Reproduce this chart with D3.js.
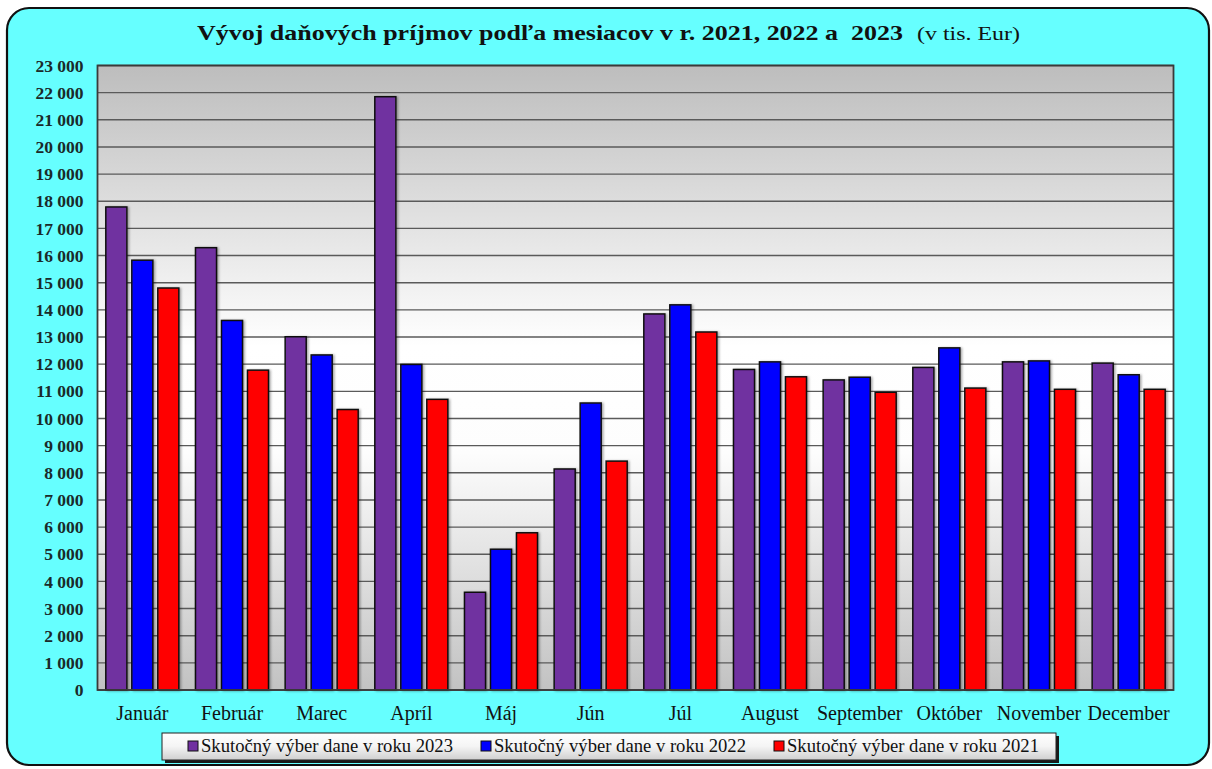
<!DOCTYPE html>
<html>
<head>
<meta charset="utf-8">
<script src="https://cdn.jsdelivr.net/npm/d3@7/dist/d3.min.js"></script>
<style>
  html, body { margin: 0; padding: 0; background: #ffffff; }
  svg { display: block; }
  text { font-family: "Liberation Serif", "Times New Roman", serif; }
</style>
</head>
<body>
<svg id="chart" width="1212" height="769"></svg>
<script>
// ---- Data ----
const months = ["Január", "Február", "Marec", "Apríl", "Máj", "Jún", "Júl", "August", "September", "Október", "November", "December"];
const seriesNames = ["Skutočný výber dane v roku 2023", "Skutočný výber dane v roku 2022", "Skutočný výber dane v roku 2021"];
const values2023 = [17790, 16290, 13010, 21850, 3600, 8140, 13850, 11805, 11420, 11880, 12085, 12040];
const values2022 = [15830, 13610, 12340, 11990, 5185, 10570, 14185, 12085, 11520, 12600, 12120, 11610];
const values2021 = [14805, 11780, 10330, 10705, 5790, 8430, 13185, 11535, 10965, 11120, 11075, 11075];
const seriesColors = ["#7030A0", "#0000FF", "#FF0000"];
const yTicks = d3.range(0, 23001, 1000);
const titleMain = "Vývoj daňových príjmov podľa mesiacov v r. 2021, 2022 a  2023";
const titleUnit = "(v tis. Eur)";

const seriesValues = [values2023, values2022, values2021];

// ---- Layout ----
const svg = d3.select("#chart");
const plot = { left: 97.5, right: 1173.5, top: 65.5, bottom: 690 };
const serif = "'Liberation Serif', 'Times New Roman', serif";

const defs = svg.append("defs");
const bgGrad = defs.append("linearGradient").attr("id", "plotBg")
  .attr("x1", 0).attr("y1", 0).attr("x2", 0).attr("y2", 1);
[[0, "#bdbdbd"], [0.45, "#ffffff"], [0.62, "#fdfdfd"], [1, "#c2c2c2"]].forEach(([o, c]) =>
  bgGrad.append("stop").attr("offset", o).attr("stop-color", c));

const legGrad = defs.append("linearGradient").attr("id", "legBg")
  .attr("x1", 0).attr("y1", 0).attr("x2", 0).attr("y2", 1);
[[0, "#ffffff"], [0.5, "#f4f4f4"], [1, "#cfcfcf"]].forEach(([o, c]) =>
  legGrad.append("stop").attr("offset", o).attr("stop-color", c));

const shadow = defs.append("filter").attr("id", "barShadow")
  .attr("x", "-20%").attr("y", "-5%").attr("width", "150%").attr("height", "115%");
shadow.append("feDropShadow").attr("dx", 1.5).attr("dy", 0.5).attr("stdDeviation", 0.8)
  .attr("flood-color", "#000").attr("flood-opacity", 0.35);

// Outer frame
svg.append("rect")
  .attr("x", 7).attr("y", 8).attr("width", 1202).attr("height", 757)
  .attr("rx", 22).attr("ry", 22)
  .attr("fill", "#66FFFF").attr("stroke", "#111").attr("stroke-width", 2.2);

// Title
svg.append("text")
  .attr("x", 197).attr("y", 40)
  .style("font-family", serif)
  .attr("font-weight", "bold").attr("font-size", 22).attr("fill", "#111")
  .attr("textLength", 706).attr("lengthAdjust", "spacingAndGlyphs")
  .style("white-space", "pre")
  .text(titleMain);
svg.append("text")
  .attr("x", 917).attr("y", 40)
  .style("font-family", serif)
  .attr("font-size", 19).attr("fill", "#111")
  .attr("textLength", 103).attr("lengthAdjust", "spacingAndGlyphs")
  .text(titleUnit);

// Scales
const x0 = d3.scaleBand().domain(months).range([plot.left, plot.right]).paddingInner(0).paddingOuter(0);
const x1 = d3.scaleBand().domain(d3.range(3)).range([0, x0.bandwidth()]).paddingInner(0.19).paddingOuter(0.32);
const y = d3.scaleLinear().domain([0, 23000]).range([plot.bottom, plot.top]);

// Plot background
svg.append("rect")
  .attr("x", plot.left).attr("y", plot.top)
  .attr("width", plot.right - plot.left).attr("height", plot.bottom - plot.top)
  .attr("fill", "url(#plotBg)");

// Gridlines
svg.append("g").selectAll("line").data(yTicks).join("line")
  .attr("x1", plot.left).attr("x2", plot.right)
  .attr("y1", d => y(d)).attr("y2", d => y(d))
  .attr("stroke", "#5a5a5a").attr("stroke-width", 1.4);

// Y axis labels
const fmt = d3.formatLocale({ decimal: ",", thousands: "\u00a0", grouping: [3], currency: ["", ""] }).format(",d");
const yAxis = d3.axisLeft(y).tickValues(yTicks).tickFormat(fmt).tickSize(0).tickPadding(14);
const yg = svg.append("g").attr("transform", `translate(${plot.left},0)`).call(yAxis);
yg.attr("font-family", null);
yg.select(".domain").remove();
yg.selectAll("text")
  .style("font-family", serif)
  .attr("font-weight", "bold").attr("font-size", 17.5).attr("fill", "#1a2a2a");

// Bars
const groups = svg.append("g").selectAll("g").data(months).join("g")
  .attr("transform", d => `translate(${x0(d)},0)`);
groups.selectAll("rect")
  .data((m, i) => seriesValues.map((vals, s) => ({ s, v: vals[i] })))
  .join("rect")
  .attr("x", d => x1(d.s))
  .attr("width", x1.bandwidth())
  .attr("y", d => y(d.v))
  .attr("height", d => y(0) - y(d.v))
  .attr("fill", d => seriesColors[d.s])
  .attr("stroke", "#111").attr("stroke-width", 1.5)
  .attr("filter", "url(#barShadow)");

// Plot border
svg.append("rect")
  .attr("x", plot.left).attr("y", plot.top)
  .attr("width", plot.right - plot.left).attr("height", plot.bottom - plot.top)
  .attr("fill", "none").attr("stroke", "#3a3a3a").attr("stroke-width", 1.8);

// X axis labels
const xAxis = d3.axisBottom(x0).tickSize(0).tickPadding(16);
const xg = svg.append("g").attr("transform", `translate(0,${plot.bottom})`).call(xAxis);
xg.attr("font-family", null);
xg.select(".domain").remove();
xg.selectAll("text")
  .style("font-family", serif)
  .attr("font-size", 20).attr("fill", "#111");

// Legend
const leg = { x: 162, y: 733, w: 894, h: 27 };
svg.append("rect")
  .attr("x", leg.x + 3).attr("y", leg.y + 3).attr("width", leg.w).attr("height", leg.h)
  .attr("fill", "#1a1a1a");
svg.append("rect")
  .attr("x", leg.x).attr("y", leg.y).attr("width", leg.w).attr("height", leg.h)
  .attr("fill", "url(#legBg)").attr("stroke", "#222").attr("stroke-width", 1);
const legX = d3.scalePoint().domain(d3.range(3)).range([188, 774]);
const items = svg.append("g").selectAll("g").data(seriesNames).join("g")
  .attr("transform", (d, i) => `translate(${legX(i)},${leg.y + 8})`);
items.append("rect")
  .attr("width", 10).attr("height", 10)
  .attr("fill", (d, i) => seriesColors[i]).attr("stroke", "#111").attr("stroke-width", 1);
items.append("text")
  .attr("x", 13).attr("y", 11)
  .style("font-family", serif)
  .attr("font-size", 18.5).attr("fill", "#111")
  .attr("textLength", 252).attr("lengthAdjust", "spacingAndGlyphs")
  .text(d => d);
</script>
</body>
</html>
